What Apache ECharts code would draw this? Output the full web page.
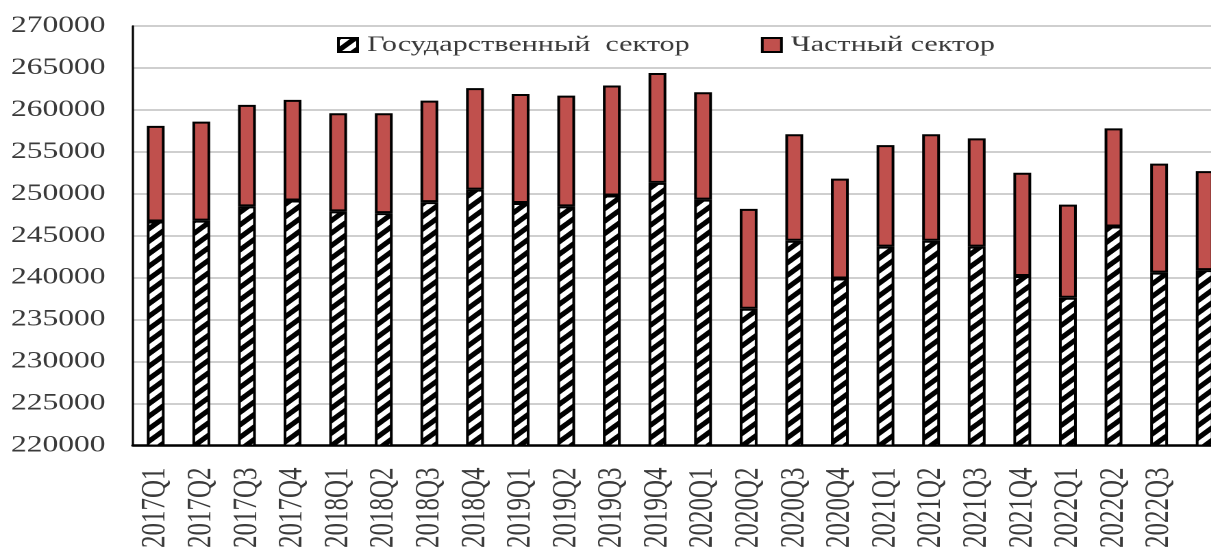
<!DOCTYPE html>
<html>
<head>
<meta charset="utf-8">
<script src="https://cdn.jsdelivr.net/npm/echarts@6/dist/echarts.min.js"></script>
<style>
  html, body { margin: 0; padding: 0; width: 1211px; height: 551px; overflow: hidden; background: #fff; }
  /* the chart is laid out narrow and widened horizontally */
  #chart { width: 896px; height: 551px; transform: scaleX(1.37); transform-origin: 0 0; }
</style>
</head>
<body>
<div id="chart"></div>
<script>
const categories = [
  '2017Q1', '2017Q2', '2017Q3', '2017Q4',
  '2018Q1', '2018Q2', '2018Q3', '2018Q4',
  '2019Q1', '2019Q2', '2019Q3', '2019Q4',
  '2020Q1', '2020Q2', '2020Q3', '2020Q4',
  '2021Q1', '2021Q2', '2021Q3', '2021Q4',
  '2022Q1', '2022Q2', '2022Q3', '2022Q4'
];
const publicSector = [
  246700, 246800, 248500, 249200,
  247900, 247700, 249000, 250500,
  248900, 248500, 249800, 251300,
  249300, 236300, 244400, 239900,
  243700, 244400, 243700, 240200,
  237600, 246100, 240600, 240900
];
const privateSector = [
  11400, 11800, 12100, 12000,
  11700, 11900, 12100, 12100,
  13000, 13200, 13100, 13100,
  12800, 11900, 12700, 11900,
  12100, 12700, 12900, 12300,
  11100, 11700, 13000, 11800
];
const seriesNames = ['Государственный  сектор', 'Частный сектор'];
const yMin = 220000;
const yMax = 270000;
const yStep = 5000;

const FONT = "'Liberation Serif', 'Times New Roman', serif";

// diagonal black-and-white hatch used for the public sector bars
function makeHatch() {
  const t = 25;
  const c = document.createElement('canvas');
  c.width = t; c.height = t;
  const g = c.getContext('2d');
  g.fillStyle = '#ffffff';
  g.fillRect(0, 0, t, t);
  g.strokeStyle = '#000000';
  g.lineWidth = 9;
  g.lineCap = 'square';
  [0, t, 2 * t].forEach(function (k) {
    g.beginPath();
    g.moveTo(-8, k + 8);
    g.lineTo(k + 8, -8);
    g.stroke();
  });
  return { image: c, repeat: 'repeat', scaleX: 0.5, scaleY: 0.5 };
}

const chart = echarts.init(document.getElementById('chart'), null, { devicePixelRatio: 2 });

chart.setOption({
  animation: false,
  backgroundColor: '#ffffff',
  textStyle: { fontFamily: FONT },
  grid: { left: 97, right: 0, top: 26, bottom: 105, containLabel: false },
  legend: {
    data: seriesNames,
    left: 220,
    top: 29,
    padding: [5, 25, 3, 26],
    backgroundColor: '#ffffff',
    itemWidth: 14,
    itemHeight: 14,
    itemGap: 52,
    icon: 'rect',
    textStyle: { fontFamily: FONT, fontSize: 22, color: '#3a3a3a', padding: [0, 0, 0, 2] }
  },
  xAxis: {
    type: 'category',
    data: categories,
    axisLine: { show: true, lineStyle: { color: '#000000', width: 2.5 } },
    axisTick: { show: false },
    axisLabel: {
      rotate: 90,
      margin: 22,
      fontFamily: FONT,
      fontSize: 25,
      color: '#3a3a3a',
      interval: function (i) { return i < categories.length - 1; }
    },
    splitLine: { show: false }
  },
  yAxis: {
    type: 'value',
    min: yMin,
    max: yMax,
    interval: yStep,
    axisLine: { show: true, lineStyle: { color: '#000000', width: 1.6 } },
    axisTick: { show: false },
    axisLabel: {
      margin: 20,
      fontFamily: FONT,
      fontSize: 23,
      color: '#3a3a3a',
      formatter: function (v) { return String(v); }
    },
    splitLine: { show: true, lineStyle: { color: '#c0c0c0', width: 1.6 } }
  },
  series: [
    {
      name: seriesNames[0],
      type: 'bar',
      stack: 'total',
      barWidth: 13,
      data: publicSector,
      itemStyle: { color: makeHatch(), borderColor: '#000000', borderWidth: 2 }
    },
    {
      name: seriesNames[1],
      type: 'bar',
      stack: 'total',
      barWidth: 13,
      data: privateSector,
      itemStyle: { color: '#C0504D', borderColor: '#000000', borderWidth: 2 }
    }
  ]
});
</script>
</body>
</html>
